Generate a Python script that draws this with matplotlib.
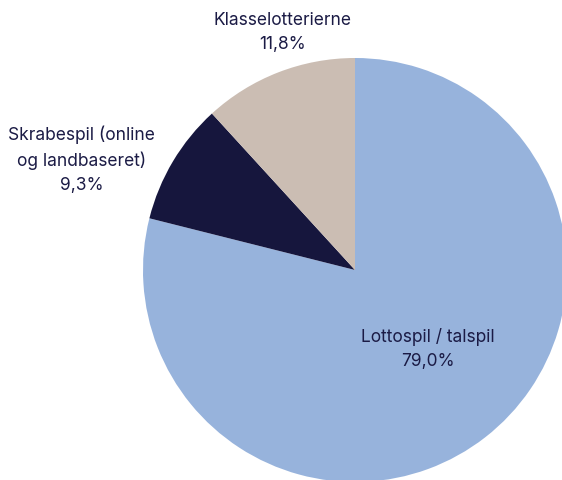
import matplotlib
matplotlib.use('Agg')
import matplotlib.pyplot as plt

# data
labels = ['Lottospil / talspil', 'Skrabespil (online\nog landbaseret)', 'Klasselotterierne']
shares = [79.0, 9.3, 11.8]
colors = ['#97B3DC', '#16163D', '#CBBDB3']
text_color = '#1B1B45'

# label positions in data coords (pie radius = 1)
label_pos = [(0.344, -0.373), (-1.29, 0.52), (-0.34, 1.12)]

plt.rcParams['font.family'] = ['Inter', 'DejaVu Sans']

fig = plt.figure(figsize=(5.62, 4.8), dpi=100)
ax = fig.add_axes([0, 0, 1, 1])

ax.pie(shares, colors=colors, startangle=90, counterclock=False,
       radius=1, center=(0, 0), wedgeprops=dict(linewidth=0))

for lab, val, (x, y) in zip(labels, shares, label_pos):
    txt = lab + '\n' + ('%.1f' % val).replace('.', ',') + '%'
    ax.text(x, y, txt, ha='center', va='center', fontsize=12.5,
            color=text_color, linespacing=1.5)

# pie is cropped at right and bottom in the reference
ax.set_xlim(-355 / 212, (562 - 355) / 212)
ax.set_ylim(-(480 - 270) / 212, 270 / 212)
ax.set_aspect('auto')
ax.axis('off')

fig.savefig('out.png', dpi=100)
